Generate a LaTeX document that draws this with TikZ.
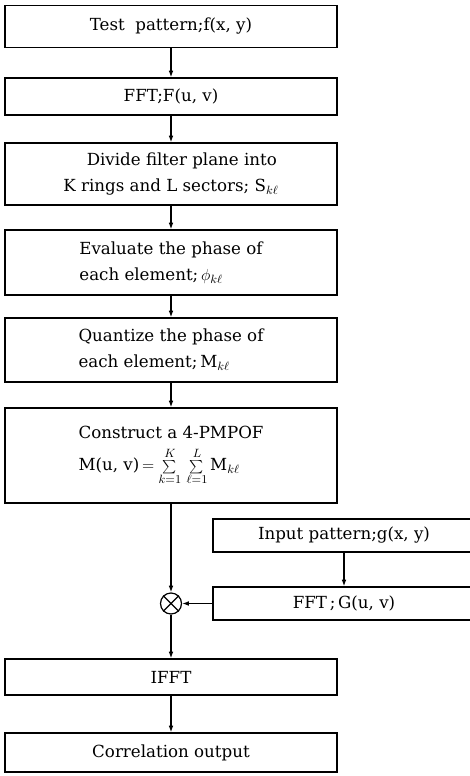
\documentclass[tikz,border=0pt]{standalone}
\usepackage{fontspec}
\setmainfont{DejaVu Serif}
\usetikzlibrary{arrows.meta}
\begin{document}
\begin{tikzpicture}[
    x=0.75pt, y=-0.75pt,
    stage/.style={rectangle, draw, line width=0.9pt, minimum width=249pt, inner sep=0pt,
                  font=\fontsize{12.5}{19.5}\selectfont},
    side/.style={stage, minimum width=196.5pt},
    flow/.style={-{Latex[length=5pt,width=3.5pt]}, line width=0.9pt}
]
    \useasboundingbox (0,0) rectangle (470,776);

    % Filter design
    \node[stage, minimum height=31.5pt] (test) at (171,26.5) {Test\ \ pattern;f(x, y)};
    \node[stage, minimum height=27.75pt] (fftf) at (171,96.5) {FFT;F(u, v)};
    \node[stage, minimum height=46.5pt, align=left] (divide) at (171,174)
        {\hspace*{1.4em}Divide filter plane into\\K rings and L sectors;\ S$_{k\ell}$};
    \node[stage, minimum height=48.75pt, align=left] (phase) at (171,262.5)
        {Evaluate the phase of\\each element;\,$\phi_{k\ell}$};
    \node[stage, minimum height=48pt, align=left] (quant) at (171,350)
        {Quantize the phase of\\each element;\,M$_{k\ell}$};
    \node[stage, minimum height=71.25pt, align=left] (pmpof) at (171,455.5)
        {Construct a 4-PMPOF\\[5pt]M(u, v)\,$=\sum\limits_{k=1}^{K}\,\sum\limits_{\ell=1}^{L}$\,M$_{k\ell}$};

    % Input branch
    \node[side, minimum height=24.75pt] (input) at (344,535.5) {Input pattern;g(x, y)};
    \node[side, minimum height=24.75pt] (fftg) at (344,603.5) {FFT\,;\,G(u, v)};

    % Product and output
    \node[circle, draw, line width=0.9pt, minimum size=15.75pt, inner sep=0pt] (mix) at (171,603.5) {};
    \draw[line width=0.9pt] (mix.north west) -- (mix.south east) (mix.north east) -- (mix.south west);
    \node[stage, minimum height=27pt] (ifft) at (171,677) {IFFT};
    \node[stage, minimum height=29.25pt] (corr) at (171,752.5) {Correlation output};

    \draw[flow] (test) -- (fftf);
    \draw[flow] (fftf) -- (divide);
    \draw[flow] (divide) -- (phase);
    \draw[flow] (phase) -- (quant);
    \draw[flow] (quant) -- (pmpof);
    \draw[flow] (pmpof) -- (mix);
    \draw[flow] (input) -- (fftg);
    \draw[flow] (fftg) -- (mix);
    \draw[flow] (mix) -- (ifft);
    \draw[flow] (ifft) -- (corr);
\end{tikzpicture}
\end{document}
